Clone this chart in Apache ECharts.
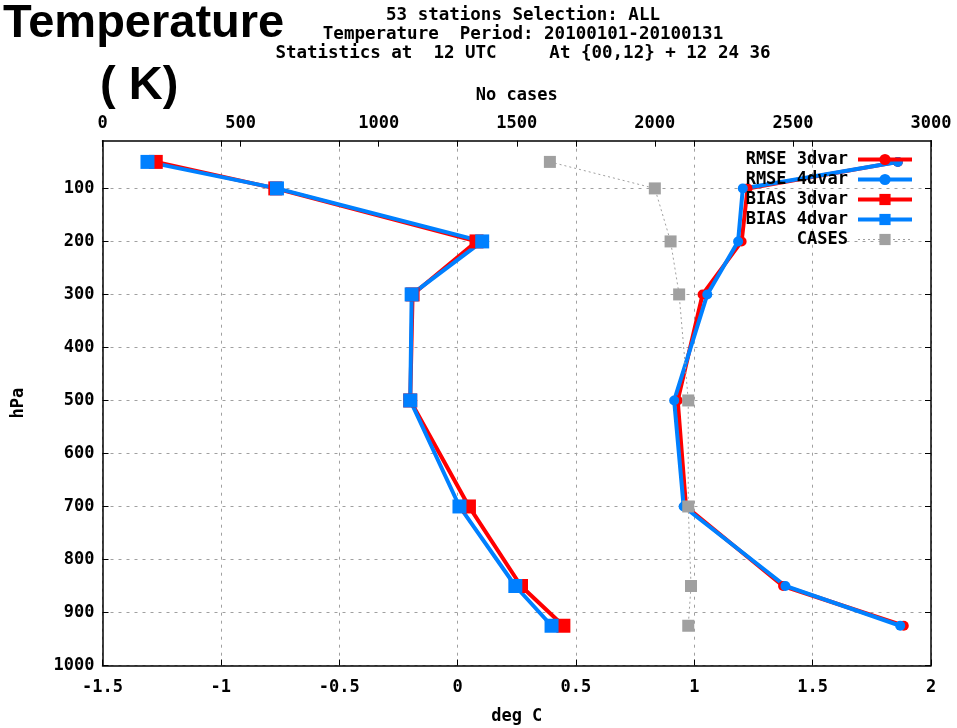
<!DOCTYPE html>
<html>
<head>
<meta charset="utf-8">
<script src="https://cdn.jsdelivr.net/npm/echarts@6/dist/echarts.min.js"></script>
<style>
  html, body { margin: 0; padding: 0; background: #ffffff; }
  #chart { width: 957px; height: 728px; }
</style>
</head>
<body>
<div id="chart"></div>
<script>
// Pressure levels (hPa) of the vertical profile
const levels = [50, 100, 200, 300, 500, 700, 850, 925];

// Temperature scores (deg C) per level
const rmse3dvar = [1.86, 1.225, 1.20, 1.035, 0.93, 0.965, 1.375, 1.885];
const rmse4dvar = [1.86, 1.205, 1.185, 1.055, 0.915, 0.955, 1.385, 1.87];
const bias3dvar = [-1.275, -0.77, 0.08, -0.19, -0.20, 0.048, 0.268, 0.447];
const bias4dvar = [-1.31, -0.763, 0.104, -0.194, -0.20, 0.008, 0.244, 0.397];

// Number of cases per level (top axis)
const cases = [1620, 2000, 2057, 2088, 2121, 2121, 2131, 2121];

// Axis tick labels
const pressureTicks = [100, 200, 300, 400, 500, 600, 700, 800, 900, 1000];

const headerLines = [
  '53 stations Selection: ALL',
  'Temperature  Period: 20100101-20100131',
  'Statistics at  12 UTC     At {00,12} + 12 24 36'
];

const MONO = '"DejaVu Sans Mono", "Liberation Mono", monospace';
const RED = '#ff0000';
const BLUE = '#0080ff';
const GREY = '#a0a0a0';

function pairs(xs) {
  return xs.map((v, i) => [v, levels[i]]);
}

const plain = v => String(v);

const chart = echarts.init(document.getElementById('chart'), null, { renderer: 'canvas' });

const gridLine = { show: true, lineStyle: { color: GREY, type: [3, 5], width: 1 } };
const tickIn = { show: true, inside: true, length: 6, lineStyle: { color: '#000', width: 1 } };
const labelFont = { fontFamily: MONO, fontSize: 17, fontWeight: 'bold', color: '#000' };

const option = {
  animation: false,
  backgroundColor: '#ffffff',
  title: [
    {
      text: 'Temperature', left: -2, top: -4,
      textStyle: { fontFamily: '"Liberation Sans", Arial, sans-serif', fontSize: 47, fontWeight: 'bold', color: '#000' }
    },
    {
      text: '( K)', left: 95, top: 58,
      textStyle: { fontFamily: '"Liberation Sans", Arial, sans-serif', fontSize: 47, fontWeight: 'bold', color: '#000' }
    },
    {
      text: headerLines.join('\n'), left: 518, top: 1, textAlign: 'center',
      textStyle: { fontFamily: MONO, fontSize: 17.5, fontWeight: 'bold', color: '#000', lineHeight: 19, align: 'center' }
    }
  ],
  legend: {
    orient: 'vertical',
    align: 'right',
    right: 38,
    top: 146,
    itemWidth: 54,
    itemHeight: 14,
    itemGap: 3,
    textStyle: { fontFamily: MONO, fontSize: 17, fontWeight: 'bold', color: '#000', lineHeight: 14, padding: [0, 5, 0, 0] },
    data: [
      { name: 'RMSE 3dvar', lineStyle: { width: 4 } },
      { name: 'RMSE 4dvar', lineStyle: { width: 4 } },
      { name: 'BIAS 3dvar', lineStyle: { width: 4 } },
      { name: 'BIAS 4dvar', lineStyle: { width: 4 } },
      { name: 'CASES', lineStyle: { width: 1 } }
    ]
  },
  grid: { left: 102.5, right: 26, top: 140.7, bottom: 62.5, containLabel: false, outerBoundsMode: 'none' },
  xAxis: [
    {
      type: 'value', position: 'bottom', min: -1.5, max: 2, interval: 0.5,
      name: 'deg C', nameLocation: 'middle', nameGap: 43,
      nameTextStyle: labelFont,
      axisLine: { show: true, onZero: false, lineStyle: { color: '#000', width: 1.5 } },
      axisTick: tickIn,
      axisLabel: Object.assign({ margin: 14, formatter: plain }, labelFont),
      splitLine: gridLine
    },
    {
      type: 'value', position: 'top', min: 0, max: 3000, interval: 500,
      name: 'No cases', nameLocation: 'middle', nameGap: 37,
      nameTextStyle: labelFont,
      axisLine: { show: true, onZero: false, lineStyle: { color: '#000', width: 1.5 } },
      axisTick: tickIn,
      axisLabel: Object.assign({ margin: 9, formatter: plain }, labelFont),
      splitLine: { show: false }
    },
    {
      // mirrored ticks of the temperature axis along the top border
      type: 'value', position: 'top', min: -1.5, max: 2, interval: 0.5,
      axisLine: { show: false },
      axisTick: tickIn,
      axisLabel: { show: false },
      splitLine: { show: false }
    }
  ],
  yAxis: [
    {
      type: 'value', inverse: true, min: 10, max: 1000,
      name: 'hPa', nameLocation: 'middle', nameGap: 75,
      nameTextStyle: labelFont,
      axisLine: { show: true, onZero: false, lineStyle: { color: '#000', width: 1.5 } },
      axisTick: Object.assign({ customValues: pressureTicks }, tickIn),
      axisLabel: Object.assign({ customValues: pressureTicks, margin: 8, formatter: plain }, labelFont),
      splitLine: gridLine
    },
    {
      // right border with mirrored pressure ticks
      type: 'value', inverse: true, min: 10, max: 1000, position: 'right',
      axisLine: { show: true, onZero: false, lineStyle: { color: '#000', width: 1.5 } },
      axisTick: Object.assign({ customValues: pressureTicks }, tickIn),
      axisLabel: { show: false },
      splitLine: { show: false }
    }
  ],
  series: [
    {
      name: 'RMSE 3dvar', type: 'line', xAxisIndex: 0, yAxisIndex: 0,
      data: pairs(rmse3dvar),
      symbol: 'circle', symbolSize: 10,
      lineStyle: { color: RED, width: 4 }, itemStyle: { color: RED }
    },
    {
      name: 'RMSE 4dvar', type: 'line', xAxisIndex: 0, yAxisIndex: 0,
      data: pairs(rmse4dvar),
      symbol: 'circle', symbolSize: 10,
      lineStyle: { color: BLUE, width: 4 }, itemStyle: { color: BLUE }
    },
    {
      name: 'BIAS 3dvar', type: 'line', xAxisIndex: 0, yAxisIndex: 0,
      data: pairs(bias3dvar),
      symbol: 'rect', symbolSize: 14,
      lineStyle: { color: RED, width: 4 }, itemStyle: { color: RED }
    },
    {
      name: 'BIAS 4dvar', type: 'line', xAxisIndex: 0, yAxisIndex: 0,
      data: pairs(bias4dvar),
      symbol: 'rect', symbolSize: 14,
      lineStyle: { color: BLUE, width: 4 }, itemStyle: { color: BLUE }
    },
    {
      name: 'CASES', type: 'line', xAxisIndex: 1, yAxisIndex: 0,
      data: pairs(cases),
      symbol: 'rect', symbolSize: 12,
      lineStyle: { color: GREY, width: 1, type: [2, 3] }, itemStyle: { color: GREY }
    }
  ]
};

chart.setOption(option);
</script>
</body>
</html>
